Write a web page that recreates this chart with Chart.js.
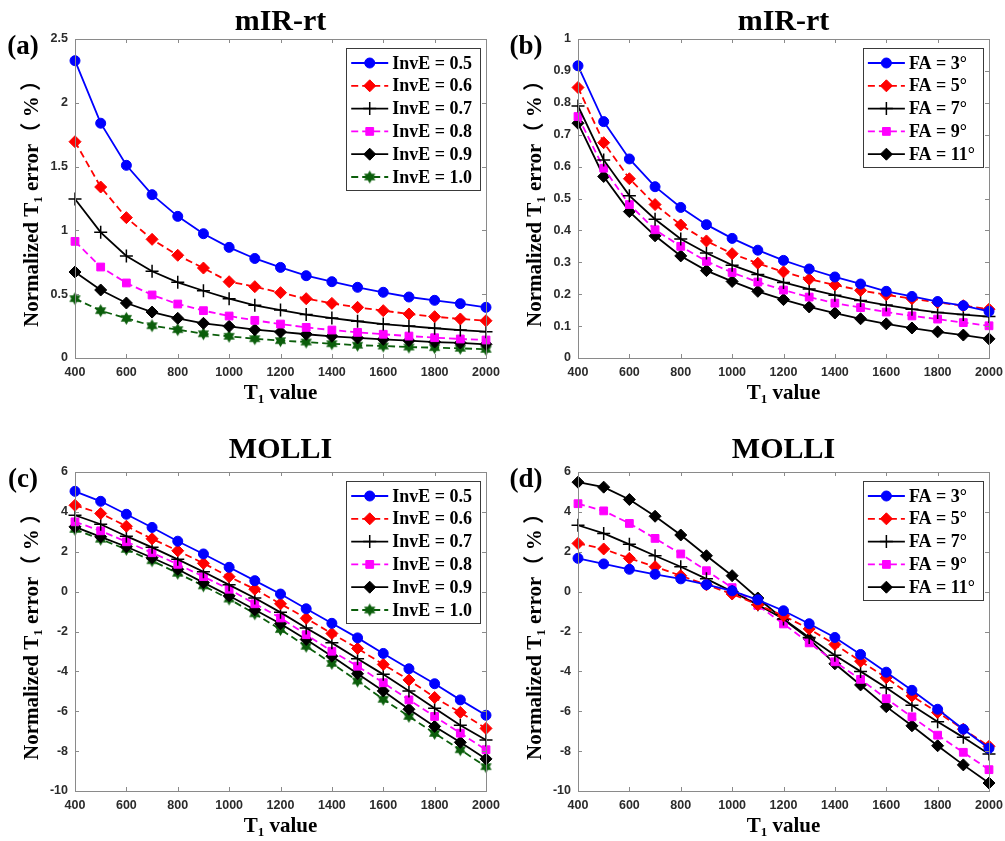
<!DOCTYPE html>
<html>
<head>
<meta charset="utf-8">
<script src="https://cdn.jsdelivr.net/npm/chart.js@4.4.1/dist/chart.umd.min.js"></script>
<style>
  body { margin: 0; background: #fff; width: 1005px; height: 841px; overflow: hidden; position: relative; }
  canvas { position: absolute; }
</style>
</head>
<body>
<canvas id="chartA" width="500" height="408" style="left:0;top:0"></canvas>
<canvas id="chartB" width="500" height="408" style="left:503px;top:0"></canvas>
<canvas id="chartC" width="500" height="411" style="left:0;top:430px"></canvas>
<canvas id="chartD" width="500" height="411" style="left:503px;top:430px"></canvas>
<script>
// T1 values (x axis)
const T1 = [400, 500, 600, 700, 800, 900, 1000, 1100, 1200, 1300, 1400, 1500, 1600, 1700, 1800, 1900, 2000];

const invELabels = ["InvE = 0.5", "InvE = 0.6", "InvE = 0.7", "InvE = 0.8", "InvE = 0.9", "InvE = 1.0"];
const faLabels = ["FA = 3°", "FA = 5°", "FA = 7°", "FA = 9°", "FA = 11°"];

// (a) mIR-rt, inversion efficiency
const mirInv05 = [2.33, 1.84, 1.51, 1.28, 1.11, 0.974, 0.867, 0.78, 0.71, 0.645, 0.598, 0.554, 0.515, 0.478, 0.452, 0.426, 0.397];
const mirInv06 = [1.695, 1.34, 1.10, 0.93, 0.805, 0.705, 0.598, 0.559, 0.512, 0.465, 0.428, 0.397, 0.371, 0.345, 0.324, 0.306, 0.292];
const mirInv07 = [1.246, 0.985, 0.80, 0.68, 0.593, 0.527, 0.465, 0.413, 0.376, 0.34, 0.313, 0.288, 0.266, 0.25, 0.233, 0.219, 0.206];
const mirInv08 = [0.914, 0.713, 0.588, 0.494, 0.423, 0.371, 0.329, 0.295, 0.266, 0.24, 0.219, 0.201, 0.186, 0.172, 0.159, 0.149, 0.141];
const mirInv09 = [0.674, 0.533, 0.431, 0.36, 0.311, 0.272, 0.248, 0.222, 0.204, 0.186, 0.17, 0.157, 0.146, 0.136, 0.125, 0.118, 0.107];
const mirInv10 = [0.465, 0.371, 0.311, 0.253, 0.222, 0.19, 0.17, 0.151, 0.136, 0.125, 0.112, 0.1, 0.094, 0.086, 0.081, 0.076, 0.068];

// (b) mIR-rt, flip angle
const mirFA3 = [0.916, 0.741, 0.624, 0.537, 0.472, 0.418, 0.375, 0.338, 0.306, 0.279, 0.254, 0.232, 0.209, 0.193, 0.177, 0.164, 0.146];
const mirFA5 = [0.848, 0.675, 0.562, 0.481, 0.417, 0.367, 0.327, 0.297, 0.27, 0.247, 0.229, 0.212, 0.198, 0.186, 0.174, 0.164, 0.153];
const mirFA7 = [0.79, 0.621, 0.509, 0.435, 0.373, 0.329, 0.291, 0.262, 0.237, 0.216, 0.197, 0.18, 0.166, 0.153, 0.143, 0.136, 0.13];
const mirFA9 = [0.757, 0.595, 0.481, 0.402, 0.35, 0.303, 0.268, 0.238, 0.213, 0.191, 0.172, 0.158, 0.144, 0.132, 0.122, 0.111, 0.101];
const mirFA11 = [0.736, 0.569, 0.459, 0.383, 0.32, 0.274, 0.24, 0.209, 0.183, 0.16, 0.141, 0.123, 0.107, 0.094, 0.082, 0.072, 0.06];

// (c) MOLLI, inversion efficiency
const molInv05 = [5.03, 4.53, 3.88, 3.22, 2.53, 1.89, 1.22, 0.55, -0.12, -0.86, -1.59, -2.32, -3.10, -3.87, -4.62, -5.43, -6.2];
const molInv06 = [4.33, 3.92, 3.28, 2.65, 2.05, 1.42, 0.75, 0.12, -0.61, -1.34, -2.1, -2.85, -3.65, -4.43, -5.31, -6.06, -6.86];
const molInv07 = [3.83, 3.38, 2.78, 2.22, 1.62, 1.0, 0.34, -0.32, -1.04, -1.82, -2.57, -3.37, -4.15, -4.98, -5.85, -6.70, -7.44];
const molInv08 = [3.5, 3.05, 2.5, 1.95, 1.37, 0.75, 0.12, -0.61, -1.32, -2.16, -2.99, -3.74, -4.57, -5.43, -6.26, -7.1, -7.93];
const molInv09 = [3.25, 2.75, 2.25, 1.70, 1.12, 0.45, -0.21, -0.91, -1.61, -2.4, -3.24, -4.12, -4.98, -5.90, -6.76, -7.56, -8.39];
const molInv10 = [3.12, 2.63, 2.12, 1.55, 0.92, 0.29, -0.37, -1.11, -1.9, -2.74, -3.6, -4.48, -5.40, -6.26, -7.11, -7.93, -8.78];

// (d) MOLLI, flip angle
const molFA3 = [1.67, 1.39, 1.12, 0.87, 0.64, 0.35, 0.04, -0.41, -0.96, -1.61, -2.3, -3.15, -4.04, -4.95, -5.90, -6.90, -7.86];
const molFA5 = [2.42, 2.14, 1.67, 1.25, 0.80, 0.34, -0.12, -0.66, -1.21, -1.87, -2.65, -3.49, -4.32, -5.23, -6.06, -6.9, -7.76];
const molFA7 = [3.33, 2.92, 2.37, 1.80, 1.25, 0.64, 0.0, -0.66, -1.37, -2.3, -3.19, -4.0, -4.82, -5.70, -6.53, -7.31, -8.14];
const molFA9 = [4.41, 4.05, 3.42, 2.67, 1.89, 1.05, 0.2, -0.69, -1.62, -2.57, -3.52, -4.40, -5.37, -6.28, -7.2, -8.06, -8.93];
const molFA11 = [5.49, 5.24, 4.62, 3.78, 2.84, 1.80, 0.80, -0.32, -1.40, -2.37, -3.62, -4.68, -5.77, -6.73, -7.73, -8.69, -9.6];

const SERIF = "'Liberation Serif', 'Times New Roman', 'Noto Sans CJK SC', serif";
const SANS = "'Liberation Sans', Arial, sans-serif";

// filled hexagram marker (matlab 'h')
function hexagram(color, r) {
  const c = document.createElement("canvas");
  const s = Math.ceil(r * 2 + 2);
  c.width = s; c.height = s;
  const g = c.getContext("2d");
  g.fillStyle = color;
  g.beginPath();
  for (let i = 0; i < 12; i++) {
    const a = -Math.PI / 2 + i * Math.PI / 6;
    const rr = i % 2 === 0 ? r : r * 0.58;
    const x = s / 2 + rr * Math.cos(a), y = s / 2 + rr * Math.sin(a);
    if (i === 0) g.moveTo(x, y); else g.lineTo(x, y);
  }
  g.closePath();
  g.fill();
  return c;
}

const STYLES = [
  { color: "#0000ff", dash: [], point: "circle", r: 5, pbw: 1 },
  { color: "#ff0000", dash: [7, 4], point: "rectRot", r: 6, pbw: 1 },
  { color: "#000000", dash: [], point: "cross", r: 6.5, pbw: 1.5 },
  { color: "#ff00ff", dash: [7, 4], point: "rect", r: 5.5, pbw: 1 },
  { color: "#000000", dash: [], point: "rectRot", r: 6, pbw: 1 },
  { color: "#0b5e0b", dash: [7, 4], point: hexagram("#0b5e0b", 6.5), r: 6, pbw: 1 }
];

const panelPlugin = {
  id: "panel",
  afterDraw(chart, args, opts) {
    const ctx = chart.ctx;
    const area = chart.chartArea;
    const xs = chart.scales.x, ys = chart.scales.y;
    ctx.save();

    // box + inward ticks
    ctx.strokeStyle = "#8a8a8a";
    ctx.lineWidth = 1;
    ctx.strokeRect(area.left + 0.5, area.top + 0.5, area.right - area.left, area.bottom - area.top);
    ctx.beginPath();
    xs.ticks.forEach(t => {
      const px = Math.round(xs.getPixelForValue(t.value)) + 0.5;
      ctx.moveTo(px, area.bottom); ctx.lineTo(px, area.bottom - 4);
      ctx.moveTo(px, area.top); ctx.lineTo(px, area.top + 4);
    });
    ys.ticks.forEach(t => {
      const py = Math.round(ys.getPixelForValue(t.value)) + 0.5;
      ctx.moveTo(area.left, py); ctx.lineTo(area.left + 4, py);
      ctx.moveTo(area.right, py); ctx.lineTo(area.right - 4, py);
    });
    ctx.stroke();

    const cx = (area.left + area.right) / 2;
    const cy = (area.top + area.bottom) / 2;
    ctx.fillStyle = "#000";

    // title
    ctx.font = "bold 30px " + SERIF;
    ctx.textAlign = "center";
    ctx.textBaseline = "middle";
    ctx.fillText(opts.title, cx, opts.titleY);

    // panel letter
    ctx.font = "bold 27px " + SERIF;
    ctx.fillText(opts.letter, 23, area.top + 8);

    // text with a subscript "1"
    function subText(parts, x, y) {
      let total = 0;
      parts.forEach(p => { ctx.font = "bold " + p.size + "px " + SERIF; p.w = ctx.measureText(p.t).width; total += p.w; });
      let sx = x - total / 2;
      ctx.textAlign = "left";
      ctx.textBaseline = "alphabetic";
      parts.forEach(p => {
        ctx.font = "bold " + p.size + "px " + SERIF;
        ctx.fillText(p.t, sx, y + p.dy);
        sx += p.w;
      });
    }
    subText([{ t: "T", size: 21, dy: 0 }, { t: "1", size: 13, dy: 4 }, { t: " value", size: 21, dy: 0 }], cx, area.bottom + 41);

    ctx.save();
    ctx.translate(31, cy);
    ctx.rotate(-Math.PI / 2);
    subText([{ t: "Normalized T", size: 21, dy: 0 }, { t: "1", size: 13, dy: 4 }, { t: " error（ % ）", size: 21, dy: 0 }], 0, 7);
    ctx.restore();

    // legend box inside top right
    const dsets = chart.data.datasets;
    ctx.font = "bold 18px " + SERIF;
    let tw = 0;
    dsets.forEach(d => { tw = Math.max(tw, ctx.measureText(d.label).width); });
    const rowH = 22.8;
    const bw = 46 + tw + 8;
    const bh = 15 + (dsets.length - 1) * rowH + 13;
    const bx = area.right - 6 - bw;
    const by = area.top + 9;
    ctx.fillStyle = "#fff";
    ctx.fillRect(bx, by, bw, bh);
    ctx.strokeStyle = "#3a3a3a";
    ctx.lineWidth = 1;
    ctx.strokeRect(Math.round(bx) + 0.5, Math.round(by) + 0.5, Math.round(bw), Math.round(bh));
    dsets.forEach((d, i) => {
      const ry = by + 15 + i * rowH;
      ctx.save();
      ctx.strokeStyle = d.borderColor;
      ctx.lineWidth = d.borderWidth;
      ctx.setLineDash(d.borderDash);
      ctx.beginPath();
      ctx.moveTo(bx + 5, ry); ctx.lineTo(bx + 42, ry);
      ctx.stroke();
      ctx.setLineDash([]);
      ctx.fillStyle = d.pointBackgroundColor;
      ctx.strokeStyle = d.pointBorderColor;
      ctx.lineWidth = d.pointBorderWidth;
      Chart.helpers.drawPoint(ctx, { pointStyle: d.pointStyle, radius: d.pointRadius, borderWidth: d.pointBorderWidth, rotation: 0 }, bx + 23.5, ry);
      ctx.restore();
      ctx.fillStyle = "#000";
      ctx.font = "bold 18px " + SERIF;
      ctx.textAlign = "left";
      ctx.textBaseline = "middle";
      ctx.fillText(d.label, bx + 46, ry + 1);
    });

    ctx.restore();
  }
};

function makePanel(id, cfg) {
  const datasets = cfg.series.map((ys, i) => {
    const st = STYLES[i];
    return {
      label: cfg.labels[i],
      data: T1.map((x, j) => ({ x: x, y: ys[j] })),
      borderColor: st.color,
      backgroundColor: st.color,
      borderWidth: 1.8,
      borderDash: st.dash,
      pointStyle: st.point,
      pointRadius: st.r,
      pointBorderWidth: st.pbw,
      pointBackgroundColor: st.color,
      pointBorderColor: st.color,
      tension: 0,
      clip: false
    };
  });

  new Chart(document.getElementById(id), {
    type: "line",
    data: { datasets: datasets },
    options: {
      responsive: false,
      animation: false,
      events: [],
      layout: { padding: { left: 0, right: 14, top: cfg.top, bottom: 0 } },
      plugins: {
        legend: { display: false },
        tooltip: { enabled: false },
        panel: { title: cfg.title, letter: cfg.letter, titleY: cfg.titleY }
      },
      scales: {
        x: {
          type: "linear",
          min: 400, max: 2000,
          grid: { display: false, drawTicks: false },
          border: { display: false },
          ticks: { stepSize: 200, padding: 7, color: "#2b2b2b", font: { family: SANS, size: 12.5, weight: "bold" }, maxRotation: 0,
            callback: v => String(v) },
          afterFit: s => { s.height = 50; s.paddingLeft = 0; s.paddingRight = 0; }
        },
        y: {
          min: cfg.ymin, max: cfg.ymax,
          grid: { display: false, drawTicks: false },
          border: { display: false },
          ticks: { stepSize: cfg.ystep, padding: 7, color: "#2b2b2b", font: { family: SANS, size: 12.5, weight: "bold" },
            callback: v => String(+v.toFixed(2)) },
          afterFit: s => { s.width = 75; s.paddingTop = 0; s.paddingBottom = 0; }
        }
      }
    },
    plugins: [panelPlugin]
  });
}

makePanel("chartA", { title: "mIR-rt", letter: "(a)", titleY: 22, top: 39, ymin: 0, ymax: 2.5, ystep: 0.5,
  labels: invELabels, series: [mirInv05, mirInv06, mirInv07, mirInv08, mirInv09, mirInv10] });
makePanel("chartB", { title: "mIR-rt", letter: "(b)", titleY: 22, top: 39, ymin: 0, ymax: 1, ystep: 0.1,
  labels: faLabels, series: [mirFA3, mirFA5, mirFA7, mirFA9, mirFA11] });
makePanel("chartC", { title: "MOLLI", letter: "(c)", titleY: 20, top: 42, ymin: -10, ymax: 6, ystep: 2,
  labels: invELabels, series: [molInv05, molInv06, molInv07, molInv08, molInv09, molInv10] });
makePanel("chartD", { title: "MOLLI", letter: "(d)", titleY: 20, top: 42, ymin: -10, ymax: 6, ystep: 2,
  labels: faLabels, series: [molFA3, molFA5, molFA7, molFA9, molFA11] });
</script>
</body>
</html>
